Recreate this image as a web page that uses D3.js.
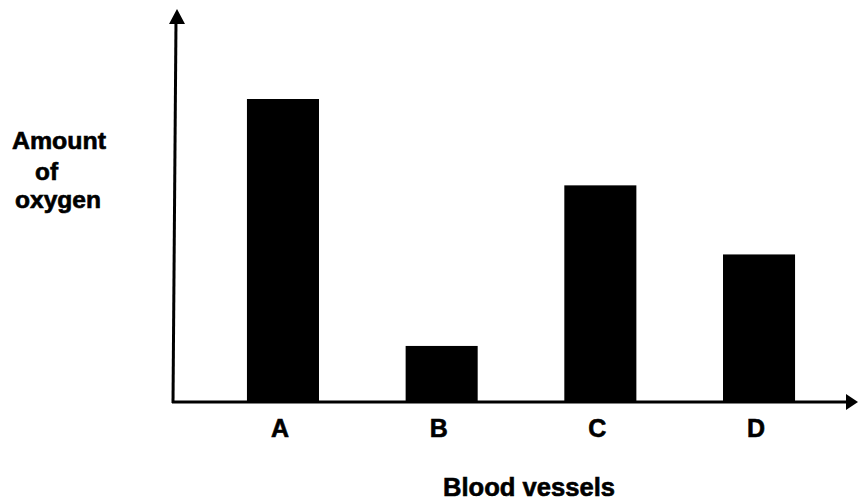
<!DOCTYPE html>
<html><head><meta charset="utf-8">
<script src="https://cdn.jsdelivr.net/npm/d3@7"></script>
<style>body{margin:0;background:#fff}svg{display:block}</style>
</head><body>
<svg id="c" width="858" height="500"></svg>
<script>
const categories = ["A", "B", "C", "D"];
const oxygen = [100, 18.5, 71.5, 48.7];
const xTitle = "Blood vessels";
const yTitleLines = ["Amount", "of", "oxygen"];

const svg = d3.select("#c");
const baseY = 402, axisX = 173;
const font = "Liberation Sans, Arial, Helvetica, sans-serif";
const x = d3.scaleBand().domain(categories).range([173, 869]).paddingInner(0.546).paddingOuter(0.466);
const y = d3.scaleLinear().domain([0, 100]).range([baseY, 99]);

svg.selectAll("rect.bar").data(categories).enter().append("rect")
  .attr("class", "bar")
  .attr("x", d => x(d)).attr("width", x.bandwidth())
  .attr("y", (d, i) => y(oxygen[i])).attr("height", (d, i) => baseY - y(oxygen[i]))
  .attr("fill", "#000");

// axes
svg.append("line").attr("x1", axisX).attr("y1", baseY + 1).attr("x2", axisX + 3).attr("y2", 20)
  .attr("stroke", "#000").attr("stroke-width", 3);
svg.append("path").attr("d", `M${axisX + 4},9 L${axisX - 4},24 L${axisX + 12},24 Z`).attr("fill", "#000");
svg.append("line").attr("x1", axisX - 1).attr("y1", baseY).attr("x2", 850).attr("y2", baseY)
  .attr("stroke", "#000").attr("stroke-width", 3);
svg.append("path").attr("d", `M858,${baseY} L846,${baseY - 8} L846,${baseY + 8} Z`).attr("fill", "#000");

// category labels
svg.selectAll("text.cat").data(categories).enter().append("text")
  .attr("class", "cat")
  .attr("x", d => x(d) + x.bandwidth() / 2 - 3).attr("y", 437)
  .attr("text-anchor", "middle")
  .attr("font-family", font).attr("font-weight", "bold").attr("font-size", 25)
  .attr("stroke", "#000").attr("stroke-width", 0.6)
  .text(d => d);

svg.append("text").attr("x", 443).attr("y", 496).attr("text-anchor", "start")
  .attr("font-family", font).attr("font-weight", "bold").attr("font-size", 25.5)
  .attr("stroke", "#000").attr("stroke-width", 0.6)
  .attr("textLength", 172).attr("lengthAdjust", "spacingAndGlyphs")
  .text(xTitle);

const yLayout = [{x: 12, y: 149, w: 94}, {x: 35, y: 180, w: 23}, {x: 15, y: 208, w: 86}];
svg.selectAll("text.yt").data(yTitleLines).enter().append("text")
  .attr("class", "yt")
  .attr("x", (d, i) => yLayout[i].x).attr("y", (d, i) => yLayout[i].y)
  .attr("font-family", font).attr("font-weight", "bold").attr("font-size", 23)
  .attr("stroke", "#000").attr("stroke-width", 0.6)
  .attr("textLength", (d, i) => yLayout[i].w).attr("lengthAdjust", "spacingAndGlyphs")
  .text(d => d);
</script>
</body></html>
